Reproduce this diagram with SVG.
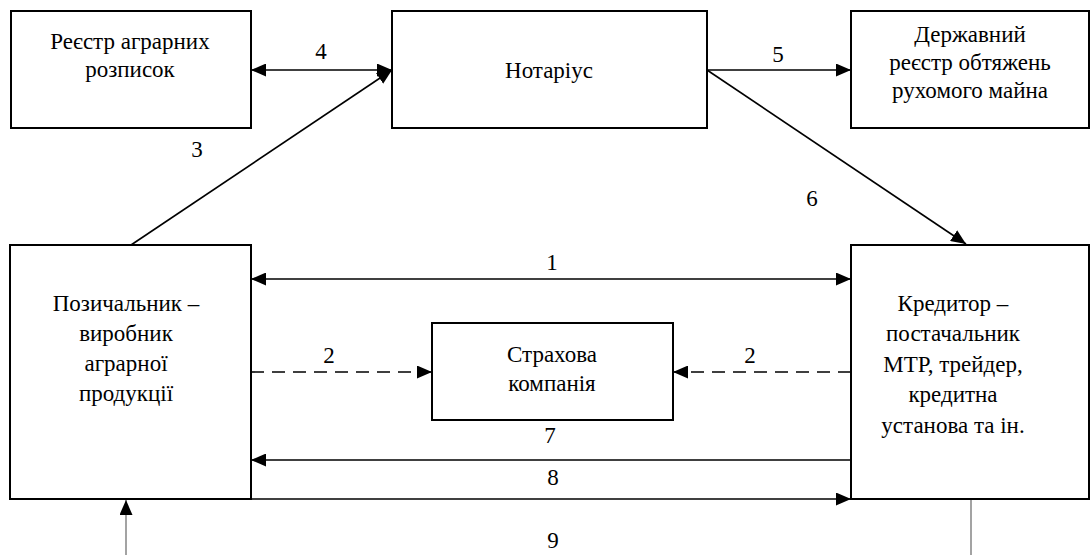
<svg xmlns="http://www.w3.org/2000/svg" width="1091" height="555" viewBox="0 0 1091 555">
<style>
.box{fill:#fff;stroke:#000;stroke-width:2}
.t{font-family:'Liberation Serif','Times New Roman',serif;font-size:23px;fill:#000;text-anchor:middle}
.c{stroke:#000;stroke-width:1.6;fill:none}
.d{stroke:#000;stroke-width:1.6;fill:none;stroke-dasharray:13,8}
.g{stroke:#666;stroke-width:1.2;fill:none}
</style>
<defs>
<marker id="ah" markerWidth="15" markerHeight="13" refX="15" refY="6.5" orient="auto-start-reverse" markerUnits="userSpaceOnUse">
<path d="M0,0 L15,6.5 L0,13 z" fill="#000"/>
</marker>
</defs>
<g id="connectors">
<line class="c" x1="251" y1="70" x2="392" y2="70" marker-start="url(#ah)" marker-end="url(#ah)"/>
<line class="c" x1="707" y1="70" x2="851" y2="70" marker-end="url(#ah)"/>
<line class="c" x1="131" y1="245" x2="392" y2="70" marker-end="url(#ah)"/>
<line class="c" x1="707" y1="70" x2="966" y2="244" marker-end="url(#ah)"/>
<line class="c" x1="251" y1="279" x2="851" y2="279" marker-start="url(#ah)" marker-end="url(#ah)"/>
<line class="d" x1="251" y1="372" x2="432" y2="372" marker-end="url(#ah)"/>
<line class="d" x1="851" y1="372" x2="673" y2="372" marker-end="url(#ah)"/>
<line class="c" x1="851" y1="460" x2="251" y2="460" marker-end="url(#ah)"/>
<line class="c" x1="251" y1="499" x2="851" y2="499" marker-end="url(#ah)"/>
<line class="g" x1="971" y1="499" x2="971" y2="555"/>
<line class="g" x1="126" y1="555" x2="126" y2="500" marker-end="url(#ah)"/>
<text class="t" x="321" y="59">4</text>
<text class="t" x="778" y="62">5</text>
<text class="t" x="197" y="157">3</text>
<text class="t" x="812" y="206">6</text>
<text class="t" x="552" y="270">1</text>
<text class="t" x="329" y="363">2</text>
<text class="t" x="750" y="363">2</text>
<text class="t" x="550" y="443">7</text>
<text class="t" x="553" y="485">8</text>
<text class="t" x="553" y="548">9</text>
</g>
<g id="reestr">
<rect class="box" x="11" y="11" width="240" height="117"/>
<text class="t" x="130" y="49">Реєстр аграрних</text>
<text class="t" x="130" y="77">розписок</text>
</g>
<g id="notarius">
<rect class="box" x="392" y="11" width="315" height="117"/>
<text class="t" x="549" y="78">Нотаріус</text>
</g>
<g id="derzh">
<rect class="box" x="851" y="11" width="238" height="117"/>
<text class="t" x="970" y="42">Державний</text>
<text class="t" x="970" y="70">реєстр обтяжень</text>
<text class="t" x="970" y="98">рухомого майна</text>
</g>
<g id="pozych">
<rect class="box" x="10" y="245" width="241" height="254"/>
<text class="t" x="126" y="311">Позичальник –</text>
<text class="t" x="126" y="341">виробник</text>
<text class="t" x="126" y="371">аграрної</text>
<text class="t" x="126" y="401">продукції</text>
</g>
<g id="strakh">
<rect class="box" x="432" y="323" width="241" height="97"/>
<text class="t" x="552" y="362">Страхова</text>
<text class="t" x="552" y="391">компанія</text>
</g>
<g id="kredytor">
<rect class="box" x="851" y="245" width="238" height="254"/>
<text class="t" x="953" y="311">Кредитор –</text>
<text class="t" x="953" y="341">постачальник</text>
<text class="t" x="953" y="372">МТР, трейдер,</text>
<text class="t" x="953" y="402">кредитна</text>
<text class="t" x="953" y="433">установа та ін.</text>
</g>
</svg>
